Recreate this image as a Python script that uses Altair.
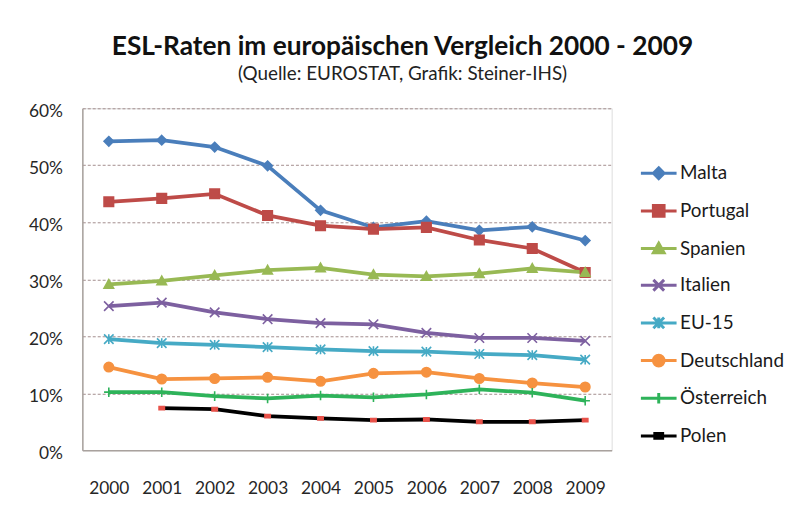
import altair as alt
import pandas as pd

years = [2000, 2001, 2002, 2003, 2004, 2005, 2006, 2007, 2008, 2009]
countries = ["Malta", "Portugal", "Spanien", "Italien", "EU-15",
             "Deutschland", "Österreich", "Polen"]

malta = [54.2, 54.4, 53.2, 49.9, 42.1, 39.1, 40.2, 38.6, 39.2, 36.8]
portugal = [43.6, 44.2, 45.0, 41.2, 39.4, 38.8, 39.1, 36.9, 35.4, 31.2]
spanien = [29.1, 29.7, 30.7, 31.6, 32.0, 30.8, 30.5, 31.0, 31.9, 31.2]
italien = [25.3, 25.9, 24.2, 23.0, 22.3, 22.1, 20.6, 19.7, 19.7, 19.2]
eu15 = [19.5, 18.8, 18.5, 18.1, 17.7, 17.4, 17.3, 16.9, 16.7, 15.9]
deutschland = [14.6, 12.5, 12.6, 12.8, 12.1, 13.5, 13.7, 12.6, 11.8, 11.1]
oesterreich = [10.2, 10.2, 9.5, 9.1, 9.6, 9.3, 9.8, 10.7, 10.1, 8.7]
polen = [None, 7.4, 7.2, 6.0, 5.6, 5.3, 5.4, 5.0, 5.0, 5.3]

y_ticks = [0, 10, 20, 30, 40, 50, 60]

series = [malta, portugal, spanien, italien, eu15, deutschland, oesterreich, polen]
rows = []
for name, vals in zip(countries, series):
    for yr, v in zip(years, vals):
        rows.append({"Jahr": str(yr), "Land": name, "Wert": v})
df = pd.DataFrame(rows)

# styles
line_colors = ["#4A7EBB", "#BE4B48", "#98B954", "#7D60A0", "#46AAC5",
               "#F69240", "#2EB35A", "#000000"]
marker_colors = ["#4A7EBB", "#BE4B48", "#98B954", "#7D60A0", "#46AAC5",
                 "#F69240", "#2EB35A", "#E8524A"]


def diamond(a):
    return f"M0,{-a}L{a},0L0,{a}L{-a},0Z"


def square(a):
    return f"M{-a},{-a}H{a}V{a}H{-a}Z"


def triangle(a):
    return f"M0,{-a}L{a},{0.8*a}L{-a},{0.8*a}Z"


def xmark(a):
    return f"M{-a},{-a}L{a},{a}M{-a},{a}L{a},{-a}"


def asterisk(a):
    return xmark(a) + f"M0,{-a}V{a}"


def circle(a):
    return f"M{-a},0A{a},{a} 0 1,0 {a},0A{a},{a} 0 1,0 {-a},0Z"


def plus(a):
    return f"M{-a},0H{a}M0,{-a}V{a}"


def rect(a):
    return f"M{-a},{-0.6*a}H{a}V{0.6*a}H{-a}Z"


shape_funcs = [diamond, square, triangle, xmark, asterisk, circle, plus]
chart_shapes = [f(0.8) for f in shape_funcs] + [rect(0.45)]
legend_shapes = ["M-1,0H1" + f(0.3) for f in shape_funcs] + ["M-1,0H1" + rect(0.22)]

FONT = "Lato"

x_enc = alt.X("Jahr:O", title=None,
              scale=alt.Scale(type="point", padding=0.5),
              axis=alt.Axis(labelAngle=0, ticks=False, labelPadding=30,
                            labelFontSize=17.5, labelFont=FONT, labelColor="#262626",
                            domainColor="#A9A29E", domainWidth=1.5, grid=False))
y_enc = alt.Y("Wert:Q", title=None,
              scale=alt.Scale(domain=[0, 60], nice=False),
              axis=alt.Axis(values=y_ticks, labelExpr="datum.value + '%'",
                            ticks=False, labelPadding=20, labelOffset=3,
                            labelFontSize=17.5, labelFont=FONT, labelColor="#262626",
                            domainColor="#A9A29E", domainWidth=1.5,
                            grid=True, gridColor="#A38E8E", gridDash=[3, 2],
                            gridWidth=1,
                            gridOpacity={"condition": {"test": "datum.value === 0", "value": 0},
                                         "value": 1}))

base = alt.Chart(df).transform_filter("isValid(datum.Wert)")

lines = base.mark_line(strokeWidth=3.8).encode(
    x=x_enc, y=y_enc,
    stroke=alt.Stroke("Land:N", scale=alt.Scale(domain=countries, range=line_colors),
                      legend=None),
    detail="Land:N",
)

points = base.mark_point(filled=True, size=144, strokeWidth=1.6, opacity=1).encode(
    x=x_enc, y=y_enc,
    shape=alt.Shape("Land:N", scale=alt.Scale(domain=countries, range=chart_shapes),
                    legend=None),
    fill=alt.Fill("Land:N", scale=alt.Scale(domain=countries, range=marker_colors),
                  legend=None),
    stroke=alt.Stroke("Land:N", scale=alt.Scale(domain=countries, range=marker_colors),
                      legend=None),
)

leg = alt.Legend(title=None, orient="none", legendX=562, legendY=46, padding=0,
                 symbolSize=1296, symbolStrokeWidth=3, symbolOpacity=1,
                 labelFontSize=19, labelFont=FONT, labelColor="#1a1a1a",
                 labelOffset=2, rowPadding=7, labelLimit=250)

legend_layer = alt.Chart(df).transform_filter("datum.Wert < -1000").mark_point(
    filled=True, size=1296, strokeWidth=3, opacity=1).encode(
    shape=alt.Shape("Land:N", scale=alt.Scale(domain=countries, range=legend_shapes),
                    legend=leg),
    fill=alt.Fill("Land:N", scale=alt.Scale(domain=countries, range=marker_colors),
                  legend=leg),
    stroke=alt.Stroke("Land:N", scale=alt.Scale(domain=countries, range=line_colors),
                      legend=leg),
)

chart = alt.layer(lines, points, legend_layer).resolve_scale(
    stroke="independent", fill="independent", shape="independent"
).properties(
    width=534, height=345,
    padding={"left": 75, "top": 99, "right": 188, "bottom": 50},
    autosize=alt.AutoSizeParams(type="none"),
    title=alt.TitleParams(
        text="ESL-Raten im europäischen Vergleich 2000 - 2009",
        subtitle="(Quelle: EUROSTAT, Grafik: Steiner-IHS)",
        font=FONT, fontSize=26.5, fontWeight="bold", color="#111111",
        subtitleFont=FONT, subtitleFontSize=19, subtitleColor="#222222",
        anchor="middle", dx=56, offset=19, subtitlePadding=4,
    ),
).configure_view(stroke=None).configure(background="white")

chart.save("out.html", embed_options={"renderer": "svg", "actions": False})
